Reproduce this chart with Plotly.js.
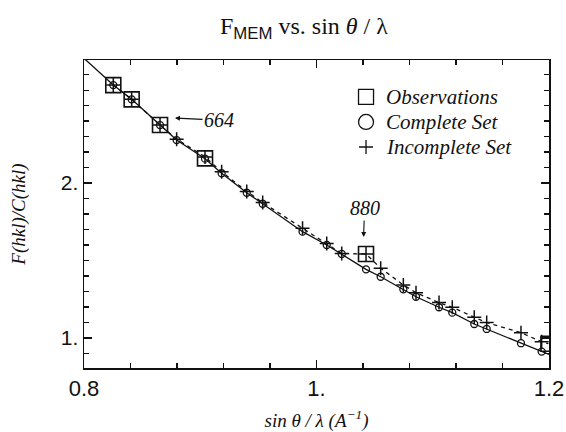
<!DOCTYPE html>
<html>
<head>
<meta charset="utf-8">
<script src="https://cdn.plot.ly/plotly-3.0.1.min.js"></script>
<style>html,body{margin:0;padding:0;background:#fff;}#chart{width:566px;height:432px;}</style>
</head>
<body>
<div id="chart"></div>
<script>
// sin(theta)/lambda values of the reflections
const xVals = [0.8252, 0.841, 0.8654, 0.8797, 0.9041, 0.9184, 0.940, 0.9537, 0.988, 1.0088, 1.0217,
               1.0426, 1.0552, 1.0747, 1.0856, 1.1054, 1.1168, 1.1357, 1.1464, 1.1759, 1.1937];
// MEM result from the complete data set
const completeVals = [2.632, 2.540, 2.374, 2.277, 2.157, 2.063, 1.937, 1.866, 1.686, 1.600, 1.542,
                      1.443, 1.395, 1.314, 1.266, 1.198, 1.163, 1.090, 1.058, 0.966, 0.912];
// MEM result from the incomplete data set
const incompleteVals = [2.632, 2.540, 2.374, 2.283, 2.168, 2.072, 1.946, 1.874, 1.708, 1.610, 1.545,
                        1.542, 1.450, 1.342, 1.292, 1.228, 1.198, 1.134, 1.099, 1.034, 0.975];
// observed reflections
const obsX = [0.8252, 0.841, 0.8654, 0.9041, 1.0426, 1.1995];
const obsY = [2.632, 2.540, 2.374, 2.159, 1.542, 0.963];
// solid curve continues to the frame edges
const curveStartX = 0.8, curveStartY = 2.805;
const curveEndX = 1.2, curveEndY = 0.893;
const dashEndX = 1.1995, dashEndY = 0.963;
// tick labels
const xTickVals = [0.8, 1.0, 1.2], xTickText = ["0.8", "1.", "1.2"];
const yTickVals = [1, 2], yTickText = ["1.", "2."];
// labelled reflections
const labels = [{t: "664", x: 0.8783, y: 2.419}, {t: "880", x: 1.0405, y: 1.652}];
// legend entries
const legendNames = ["Observations", "Complete Set", "Incomplete Set"];
const legendKinds = ["square", "circle", "plus"];

const serif = "Liberation Serif, Times New Roman, serif";
const sans = "Liberation Sans, Arial, sans-serif";

const traces = [
  {x: [curveStartX].concat(xVals, [curveEndX]), y: [curveStartY].concat(completeVals, [curveEndY]),
   mode: "lines", line: {color: "#111", width: 1.3}, hoverinfo: "skip", name: "Complete Set curve"},
  {x: xVals.concat([dashEndX]), y: incompleteVals.concat([dashEndY]),
   mode: "lines", line: {color: "#111", width: 1.3, dash: "4px,4px"}, hoverinfo: "skip", name: "Incomplete Set curve"},
  {x: xVals, y: completeVals, mode: "markers", name: legendNames[1],
   marker: {symbol: "circle-open", size: 7, color: "#111", line: {width: 1.3, color: "#111"}}},
  {x: xVals, y: incompleteVals, mode: "markers", name: legendNames[2],
   marker: {symbol: "cross-thin-open", size: 10, color: "#111", line: {width: 1.5, color: "#111"}}},
  {x: obsX, y: obsY, mode: "markers", name: legendNames[0], cliponaxis: true,
   marker: {symbol: "square-open", size: 15, color: "#111", line: {width: 1.6, color: "#111"}}}
];

// hand-placed legend box (top right of the frame)
const legX = 0.6065, legTextX = 0.6452, legY0 = 0.880, legDY = 0.0812;
const shapes = [];
const annotations = [];
legendNames.forEach((nm, i) => {
  const yy = legY0 - i * legDY;
  const base = {xref: "paper", yref: "paper", xsizemode: "pixel", ysizemode: "pixel",
                xanchor: legX, yanchor: yy, line: {color: "#111", width: 1.3}};
  if (legendKinds[i] === "square") shapes.push(Object.assign({type: "rect", x0: -7.5, x1: 7.5, y0: -7.5, y1: 7.5}, base));
  if (legendKinds[i] === "circle") shapes.push(Object.assign({type: "circle", x0: -7.5, x1: 7.5, y0: -7.5, y1: 7.5}, base));
  if (legendKinds[i] === "plus") shapes.push(Object.assign({type: "path", path: "M-7,0 L7,0 M0,-7 L0,7"}, base));
  annotations.push({xref: "paper", yref: "paper", x: legTextX, y: yy, xanchor: "left", yanchor: "middle",
                    showarrow: false, text: "<i>" + nm + "</i>", font: {family: serif, size: 21, color: "#111"}});
});

annotations.push(
  {x: labels[0].x, y: labels[0].y, text: "<i>" + labels[0].t + "</i>", showarrow: true, arrowhead: 2, arrowsize: 0.9,
   arrowwidth: 1.1, arrowcolor: "#111", ax: 44, ay: 2, font: {family: serif, size: 20, color: "#111"}},
  {x: labels[1].x, y: labels[1].y, text: "<i>" + labels[1].t + "</i>", showarrow: true, arrowhead: 2, arrowsize: 0.9,
   arrowwidth: 1.1, arrowcolor: "#111", ax: 1, ay: -29, font: {family: serif, size: 20, color: "#111"}}
);

const layout = {
  width: 566, height: 432,
  margin: {l: 84, r: 17, t: 60, b: 64},
  paper_bgcolor: "#fff", plot_bgcolor: "#fff",
  showlegend: false,
  title: {text: "F<sub><span style=\"font-family:Liberation Sans\">MEM</span></sub> vs. sin <i>θ</i> / λ",
          font: {family: serif, size: 24, color: "#111"}, x: 0.537, xanchor: "center", y: 0.94, yanchor: "middle"},
  xaxis: {range: [0.8, 1.2], showgrid: false, zeroline: false, showline: true, linecolor: "#111", linewidth: 1.5,
          mirror: "allticks", ticks: "inside", ticklen: 8, tickwidth: 1.3, tickcolor: "#111",
          tickvals: xTickVals, ticktext: xTickText, tickfont: {family: sans, size: 22, color: "#111"},
          minor: {dtick: 0.04, tick0: 0.8, ticks: "inside", ticklen: 5, tickwidth: 1.1, tickcolor: "#111"},
          title: {text: "<i>sin θ / λ (A<sup>−1</sup>)</i>", font: {family: serif, size: 19, color: "#111"}, standoff: 14}},
  yaxis: {range: [0.806, 2.794], showgrid: false, zeroline: false, showline: true, linecolor: "#111", linewidth: 1.5,
          mirror: "allticks", ticks: "inside", ticklen: 8, tickwidth: 1.3, tickcolor: "#111",
          tickvals: yTickVals, ticktext: yTickText, tickfont: {family: sans, size: 21, color: "#111"},
          minor: {dtick: 0.1, tick0: 0.8, ticks: "inside", ticklen: 5, tickwidth: 1.1, tickcolor: "#111"},
          title: {text: "<i>F(hkl)/C(hkl)</i>", font: {family: serif, size: 19, color: "#111"}, standoff: 30}},
  shapes: shapes,
  annotations: annotations
};

Plotly.newPlot("chart", traces, layout, {displayModeBar: false, staticPlot: true});
</script>
</body>
</html>
